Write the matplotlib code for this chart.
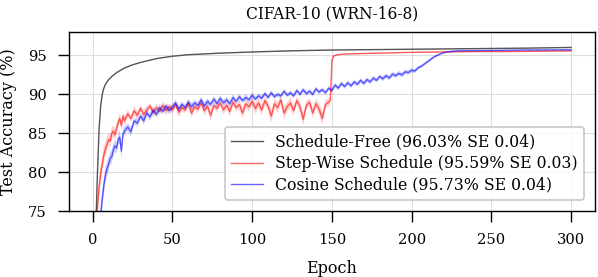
import matplotlib.pyplot as plt

plt.rcParams['font.family'] = ['DejaVu Serif']
plt.rcParams['font.size'] = 11.5

# Schedule-Free
sf_epochs = [0, 1, 2, 3, 4, 5, 6, 7, 8, 10, 12, 15, 20, 25, 30, 40, 50, 60, 70, 80,
             100, 125, 150, 175, 200, 225, 250, 275, 300]
sf_acc = [40, 62, 73, 80, 85.5, 88.5, 90.0, 90.8, 91.3, 91.9, 92.3, 92.8, 93.4, 93.8, 94.1,
          94.6, 94.9, 95.1, 95.2, 95.3, 95.45, 95.6, 95.7, 95.75, 95.8, 95.85, 95.9, 95.95, 96.03]
sf_se = [1.0, 0.8, 0.6, 0.4, 0.3, 0.2, 0.15, 0.1, 0.1, 0.08, 0.06, 0.05, 0.05, 0.05, 0.05,
         0.05, 0.05, 0.05, 0.05, 0.05, 0.05, 0.05, 0.05, 0.05, 0.05, 0.05, 0.05, 0.05, 0.05]

# Step-wise schedule
step_epochs = ([0, 1, 2, 3, 4, 5, 6, 7, 8, 9, 10, 11, 12, 13, 14, 15, 16, 17, 18, 19, 20,
                22, 24, 26, 28, 30, 32, 34, 36, 38, 40, 42, 44, 46, 48, 50, 52, 54, 56, 58,
                60, 62, 64, 66, 68, 70, 72, 74, 76, 78, 80, 82, 84, 86, 88, 90, 92, 94, 96,
                98, 100, 102, 104, 106, 108, 110, 112, 114, 116, 118, 120, 122, 124, 126,
                128, 130, 132, 134, 136, 138, 140, 142, 144, 146, 148,
                149, 150, 151, 152, 154, 156, 160, 170, 180, 190, 200, 220, 240, 260, 280, 300])
step_acc = [50, 60, 70, 75.5, 78.0, 79.8, 81.0, 82.2, 83.0, 83.6, 84.2, 84.0, 85.0, 85.3,
            84.8, 85.6, 86.4, 86.9, 86.0, 87.2, 86.6,
            87.5, 86.9, 87.9, 87.3, 88.2, 87.4, 88.0, 88.5, 87.6, 88.3, 87.8, 88.6, 87.9,
            88.4, 88.0, 88.7, 87.7, 88.3, 88.0, 88.8, 87.6, 88.4, 88.1, 88.9, 87.9, 88.5,
            87.3, 88.6, 88.2, 88.9, 88.0, 88.6, 87.8, 89.0, 88.3, 88.7, 87.6, 88.8, 88.4,
            89.1, 88.2, 88.9, 88.0, 89.2, 88.5, 87.2, 88.8, 88.3, 89.3, 87.6, 88.4, 88.9,
            87.9, 89.2, 88.4, 86.8, 88.6, 89.0, 87.6, 88.8, 88.1, 86.9, 88.7, 89.0,
            89.2, 94.3, 94.9, 95.0, 95.1, 95.15, 95.2, 95.25, 95.3, 95.35, 95.4, 95.45,
            95.5, 95.5, 95.55, 95.59]
step_se = [1.5, 1.5, 1.5, 1.3, 1.2, 1.1, 1.0, 1.0, 0.9, 0.9, 0.8, 0.8, 0.8, 0.7, 0.7,
           0.7, 0.6, 0.6, 0.6, 0.6, 0.6,
           0.5, 0.4, 0.6, 0.5, 0.4, 0.6, 0.5, 0.4, 0.6, 0.5, 0.4, 0.5, 0.6, 0.4, 0.5,
           0.4, 0.6, 0.5, 0.4, 0.5, 0.6, 0.4, 0.5, 0.4, 0.6, 0.5, 0.7, 0.4, 0.5, 0.4,
           0.6, 0.5, 0.6, 0.4, 0.5, 0.6, 0.7, 0.5, 0.6, 0.5, 0.7, 0.6, 0.7, 0.5, 0.6,
           0.8, 0.6, 0.7, 0.5, 0.8, 0.6, 0.7, 0.6, 0.5, 0.7, 0.8, 0.6, 0.5, 0.7, 0.6,
           0.7, 0.8, 0.6, 0.5,
           0.4, 0.3, 0.1, 0.08, 0.06, 0.05, 0.05, 0.05, 0.05, 0.05, 0.05, 0.05, 0.05,
           0.05, 0.05, 0.05]

# Cosine schedule
cos_epochs = ([0, 1, 2, 3, 4, 5, 6, 7, 8, 9, 10, 11, 12, 13, 14, 15, 16, 17, 18, 19, 20]
              + list(range(22, 227, 2))
              + [230, 240, 250, 260, 270, 280, 290, 300])
cos_acc = [45, 55, 63, 68, 72, 74.5, 76.5, 78.3, 79.6, 80.5, 81.0, 81.8, 82.0, 82.9, 83.4,
           83.1, 84.2, 84.5, 82.7, 84.9, 85.3,
           85.8, 85.2, 86.6, 86.3, 87.2, 86.6, 87.6, 87.1, 88.0, 87.4, 88.3, 87.8, 88.5,
           87.9, 88.4, 88.9, 88.1, 88.7, 88.3, 89.0, 88.4, 88.9, 88.6, 89.3, 88.5, 89.1,
           88.7, 89.4, 88.8, 89.5, 88.9, 89.3, 88.8, 89.6, 89.1, 89.7, 89.2, 89.6, 89.3,
           89.9, 89.4, 89.8, 89.5, 90.1, 89.6, 90.2, 89.7, 90.0, 89.8, 90.4, 89.9, 90.2,
           89.8, 90.5, 90.0, 90.6, 90.1, 90.4, 90.0, 90.7, 90.3, 90.6, 90.2, 90.8, 90.5,
           91.2, 90.8, 91.4, 91.0, 91.5, 91.1, 91.6, 91.3, 91.8, 91.4, 91.9, 91.6, 92.1,
           91.8, 92.3, 92.0, 92.4, 92.1, 92.6, 92.4, 92.7, 92.5, 92.9, 92.8, 93.1, 93.0,
           93.4, 93.6, 93.9, 94.2, 94.5, 94.8, 95.0, 95.2, 95.35, 95.45, 95.5, 95.55,
           95.6, 95.62, 95.65, 95.67, 95.7, 95.7, 95.72, 95.73]
cos_se = [1.5, 1.5, 1.5, 1.4, 1.3, 1.2, 1.1, 1.0, 1.0, 0.9, 0.9, 0.8, 0.8, 0.8, 0.7,
          0.7, 0.7, 0.8, 0.9, 0.6, 0.6,
          0.5, 0.6, 0.4, 0.5, 0.4, 0.5, 0.4, 0.5, 0.4, 0.4, 0.5, 0.4, 0.4, 0.5, 0.4,
          0.4, 0.5, 0.4, 0.4, 0.4, 0.5, 0.4, 0.4, 0.4, 0.5, 0.4, 0.4, 0.4, 0.4, 0.4,
          0.4, 0.4, 0.4, 0.4, 0.3, 0.4, 0.3, 0.4, 0.3, 0.4, 0.3, 0.3, 0.4, 0.3, 0.3,
          0.3, 0.3, 0.3, 0.3, 0.3, 0.3, 0.3, 0.3, 0.3, 0.3, 0.3, 0.3, 0.3, 0.3, 0.3,
          0.3, 0.3, 0.3, 0.3, 0.3, 0.3, 0.3, 0.3, 0.3, 0.3, 0.3, 0.3, 0.3, 0.3, 0.3,
          0.3, 0.3, 0.3, 0.3, 0.3, 0.3, 0.3, 0.3, 0.3, 0.3, 0.3, 0.3, 0.3, 0.3, 0.3,
          0.25, 0.25, 0.2, 0.2, 0.2, 0.2, 0.15, 0.15, 0.1, 0.1, 0.08, 0.06, 0.05, 0.05,
          0.05, 0.05, 0.05, 0.05, 0.05, 0.05, 0.05]

labels = ['Schedule-Free (96.03% SE 0.04)',
          'Step-Wise Schedule (95.59% SE 0.03)',
          'Cosine Schedule (95.73% SE 0.04)']

fig, ax = plt.subplots(figsize=(5.98, 2.77), dpi=100)
fig.subplots_adjust(left=0.115, right=0.995, top=0.884, bottom=0.238)

series = [(sf_epochs, sf_acc, sf_se, '#555555', 1.0),
          (step_epochs, step_acc, step_se, 'red', 0.6),
          (cos_epochs, cos_acc, cos_se, 'blue', 0.6)]
for (x, y, se, c, a), lab in zip(series, labels):
    lo = [m - s for m, s in zip(y, se)]
    hi = [m + s for m, s in zip(y, se)]
    ax.fill_between(x, lo, hi, color=c, alpha=0.2, linewidth=0)
    ax.plot(x, y, color=c, alpha=a, linewidth=1.0, label=lab)

ax.set_xlim(-15, 315)
ax.set_ylim(75, 98)
ax.set_xticks([0, 50, 100, 150, 200, 250, 300])
ax.set_yticks([75, 80, 85, 90, 95])
ax.grid(True, color='#dddddd', linewidth=0.8)
ax.set_axisbelow(True)
ax.tick_params(direction='out', length=8, width=1.0, pad=8, labelsize=10.6)
for s in ax.spines.values():
    s.set_color('black')
    s.set_linewidth(1.0)

ax.set_title('CIFAR-10 (WRN-16-8)', pad=10, fontsize=11.2)
ax.set_xlabel('Epoch', labelpad=9)
ax.set_ylabel('Test Accuracy (%)', labelpad=8)
leg = ax.legend(loc='lower right', fontsize=11.3, borderaxespad=0.7,
                handletextpad=0.8, labelspacing=0.3)
leg.get_frame().set_edgecolor('#bbbbbb')
leg.get_frame().set_linewidth(1.2)

fig.savefig('out.png', dpi=100)
